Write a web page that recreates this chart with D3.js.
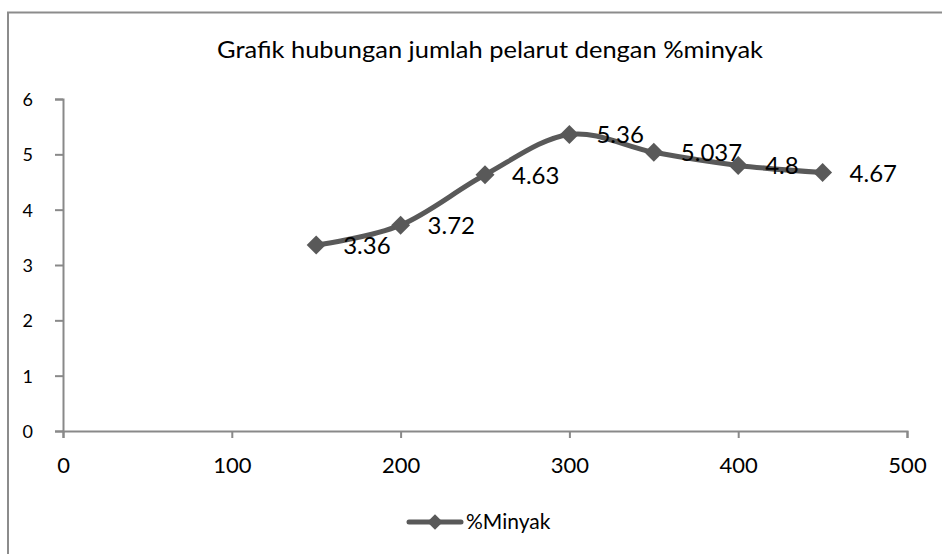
<!DOCTYPE html>
<html>
<head>
<meta charset="utf-8">
<script src="https://cdn.jsdelivr.net/npm/d3@7"></script>
<style>
  html, body { margin: 0; padding: 0; background: #fff; }
  svg { display: block; font-family: Lato, "Open Sans", sans-serif; }
</style>
</head>
<body>
<svg id="chart" width="942" height="554"></svg>
<script>
// ---- data ----
const pelarut = [150, 200, 250, 300, 350, 400, 450];
const minyak = [3.36, 3.72, 4.63, 5.36, 5.037, 4.8, 4.67];
const dataLabels = ["3.36", "3.72", "4.63", "5.36", "5.037", "4.8", "4.67"];
const xTicks = [0, 100, 200, 300, 400, 500];
const yTicks = [0, 1, 2, 3, 4, 5, 6];
const titleText = "Grafik hubungan jumlah pelarut dengan %minyak";
const seriesName = "%Minyak";

const svg = d3.select("#chart");
const lineColor = "#595959";
const axisColor = "#898989";

// chart border
svg.append("rect")
  .attr("x", 8).attr("y", 12.5)
  .attr("width", 960).attr("height", 600)
  .attr("fill", "#fff")
  .attr("stroke", "#8c8c8c").attr("stroke-width", 2);

const x = d3.scaleLinear().domain([0, 500]).range([63, 907]);
const y = d3.scaleLinear().domain([0, 6]).range([431, 99]);

// title
svg.append("text")
  .attr("x", 490).attr("y", 58)
  .attr("text-anchor", "middle")
  .attr("font-size", 24)
  .attr("textLength", 546)
  .attr("lengthAdjust", "spacingAndGlyphs")
  .attr("fill", "#000")
  .text(titleText);

// y axis
const yAxis = svg.append("g").attr("transform", `translate(${x(0)},0)`)
  .call(d3.axisLeft(y).tickValues(yTicks).tickSize(8).tickPadding(22).tickFormat(d3.format("d")));
yAxis.select(".domain").attr("stroke", axisColor).attr("stroke-width", 2);
yAxis.selectAll(".tick line").attr("stroke", axisColor).attr("stroke-width", 2);
yAxis.selectAll(".tick text")
  .attr("font-size", 18).attr("font-family", "Lato, sans-serif")
  .attr("fill", "#000").attr("dy", "0.36em");

// x axis
const xAxis = svg.append("g").attr("transform", `translate(0,${y(0)})`)
  .call(d3.axisBottom(x).tickValues(xTicks).tickSize(7).tickPadding(19).tickFormat(d3.format("d")));
xAxis.select(".domain").attr("stroke", axisColor).attr("stroke-width", 2);
xAxis.selectAll(".tick line").attr("stroke", axisColor).attr("stroke-width", 2);
xAxis.selectAll(".tick text")
  .attr("font-size", 22).attr("font-family", "Lato, sans-serif")
  .attr("fill", "#000").attr("dy", "0.71em");

// series
const pts = pelarut.map((p, i) => ({ x: p, y: minyak[i], label: dataLabels[i] }));
const line = d3.line()
  .x(d => x(d.x)).y(d => y(d.y))
  .curve(d3.curveCatmullRom.alpha(0));
svg.append("path")
  .datum(pts)
  .attr("d", line)
  .attr("fill", "none")
  .attr("stroke", lineColor)
  .attr("stroke-width", 5)
  .attr("stroke-linejoin", "round")
  .attr("stroke-linecap", "round");

svg.selectAll("path.marker")
  .data(pts).enter().append("path")
  .attr("class", "marker")
  .attr("d", d3.symbol().type(d3.symbolSquare).size(180)())
  .attr("transform", d => `translate(${x(d.x)},${y(d.y)}) rotate(45)`)
  .attr("fill", lineColor);

svg.selectAll("text.dlabel")
  .data(pts).enter().append("text")
  .attr("class", "dlabel")
  .attr("x", d => x(d.x) + 27)
  .attr("y", d => y(d.y) + 9)
  .attr("font-size", 24)
  .attr("fill", "#000")
  .text(d => d.label);

// legend
const lg = svg.append("g");
lg.append("line")
  .attr("x1", 409).attr("x2", 461).attr("y1", 522).attr("y2", 522)
  .attr("stroke", lineColor).attr("stroke-width", 5).attr("stroke-linecap", "round");
lg.append("path")
  .attr("transform", "translate(435,522) rotate(45)")
  .attr("d", d3.symbol().type(d3.symbolSquare).size(120)())
  .attr("fill", lineColor);
lg.append("text")
  .attr("x", 466).attr("y", 529)
  .attr("font-size", 21)
  .attr("fill", "#000")
  .text(seriesName);
</script>
</body>
</html>
